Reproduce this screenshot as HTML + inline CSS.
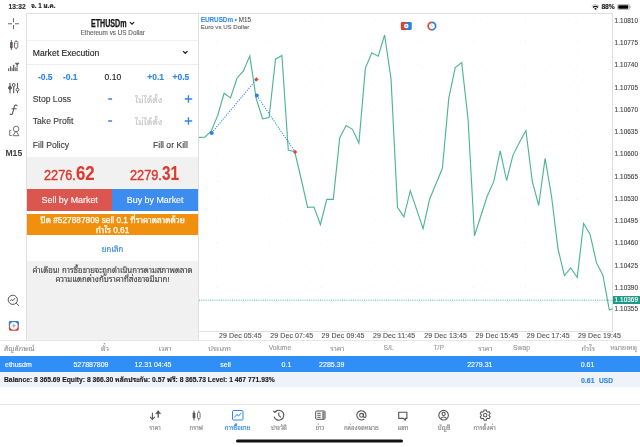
<!DOCTYPE html>
<html><head><meta charset="utf-8">
<style>
*{margin:0;padding:0;box-sizing:border-box}
html,body{width:640px;height:447px;overflow:hidden;background:#fff}
body{position:relative;font-family:"Liberation Sans","Noto Sans Thai Looped","Noto Sans Thai","Loma","Noto Sans CJK SC",sans-serif;color:#222}
.a{position:absolute;white-space:nowrap;line-height:1;-webkit-text-stroke:0.12px currentColor}
.sep{position:absolute;left:0;right:0;height:1px;background:#ececec}
.bl{color:#2f86e8}
.lb{font-size:8.6px;color:#3a3a3a}
.pl{font-size:6.4px;color:#444;left:614.6px;letter-spacing:0.05px}
.tl{font-size:7px;color:#555;top:331.6px;letter-spacing:0.1px}
.hd{font-size:6.8px;color:#9a9a9a;top:345.2px}
.rw{font-size:7px;color:#fff;top:360.9px}
.tb{font-size:6px;color:#8a8a8a;top:424.6px;transform:translateX(-50%)}
.ic{position:absolute}
</style></head><body>

<div class="a" style="left:8.6px;top:3.6px;font-size:6.7px;font-weight:bold;color:#2a2a2a">13:32</div>
<div class="a" style="left:31.2px;top:2.8px;font-size:6.3px;font-weight:bold;color:#1a1a1a">จ. 1 ม.ค.</div>
<div class="a" style="left:601.4px;top:3.6px;font-size:6.7px;font-weight:bold;color:#1a1a1a">88%</div>
<svg class="ic" style="left:590px;top:2px" width="12" height="10" viewBox="590 2 12 10"><path d="M591.7 6.3A5.3 5.3 0 0 1 599.3 6.3" stroke="#c9c9c9" stroke-width="1.2" fill="none"/><path d="M593 7.5A3.5 3.5 0 0 1 598 7.5" stroke="#111" stroke-width="1.25" fill="none"/><path d="M594.2 8.7A1.9 1.9 0 0 1 596.8 8.7L595.5 10Z" fill="#111"/></svg>
<svg class="ic" style="left:617.3px;top:3.6px" width="16" height="6" viewBox="0 0 16 6"><rect x="0.4" y="0.4" width="12.2" height="5.2" rx="1.4" fill="none" stroke="#a0a0a0" stroke-width="0.8"/><rect x="1.3" y="1.3" width="10" height="3.4" rx="0.7" fill="#000"/><path d="M13.3 2.1a1 1 0 0 1 0 1.8z" fill="#a0a0a0"/></svg>
<svg class="ic" style="left:0;top:14px" width="26" height="326" viewBox="0 14 26 326">
<g stroke="#6a6a6a" stroke-width="1.1" fill="none">
<path d="M8 23.7h4M15 23.7h4M13.5 18.3v4M13.5 25v4"/>
</g>
<g>
<rect x="10.1" y="42" width="2.6" height="6.2" rx="0.7" fill="#5a5a5a"/><path d="M11.4 40v10" stroke="#5a5a5a" stroke-width="0.9"/>
<rect x="10.6" y="44.2" width="1.3" height="2.4" fill="#c04a40"/>
<rect x="14.5" y="41.6" width="3.3" height="6.4" rx="0.9" fill="#fff" stroke="#6a6a6a" stroke-width="0.9"/><path d="M16.15 40.1v1.5M16.15 48v1.4" stroke="#6a6a6a" stroke-width="0.9"/>
<rect x="15.3" y="42.8" width="1.2" height="1.4" fill="#6bbf8a"/>
</g>
<g fill="#666">
<rect x="8" y="68.3" width="1.2" height="2.8"/><rect x="10" y="66.3" width="1.2" height="4.8"/><rect x="11.6" y="68" width="1" height="3.1"/>
<rect x="13" y="64.8" width="1.4" height="6.3"/><rect x="14.8" y="67.3" width="1" height="3.8"/><rect x="16.3" y="67.6" width="1.3" height="3.5"/>
<path d="M15.2 62.8h3.9v0.9l-1.4 1.3v2.2h-1.1v-2.2l-1.4-1.3z"/>
</g>
<g stroke="#666" stroke-width="1" fill="none">
<path d="M10 83v10.2M13.7 83v10.2M17.5 83v10.2" stroke="#5a5a5a" stroke-width="1.1"/>
<circle cx="10" cy="87.8" r="1.5" fill="#5a5a5a" stroke="#5a5a5a"/><circle cx="13.7" cy="85" r="1.45" fill="#fff" stroke="#5a5a5a"/><circle cx="17.5" cy="89.6" r="1.45" fill="#fff" stroke="#5a5a5a"/>
</g>
<path d="M17.2 105.8C16.4 104.7 14.8 104.8 14.3 106.6L12.6 113C12.2 114.6 11 114.9 10.2 114.1M11.9 108.7H16.2" stroke="#555" stroke-width="1.05" fill="none" stroke-linecap="round"/>
<g stroke="#666" stroke-width="0.9" fill="none">
<circle cx="16.1" cy="129" r="2.8"/><path d="M16 131l-3 4.7h6z"/><path d="M11.3 130.3h-1.6v5.2h2"/>
</g>
<text x="13.8" y="155.8" font-family="Liberation Sans,sans-serif" font-weight="bold" font-size="8.6" fill="#444" text-anchor="middle">M15</text>
<g stroke="#555" stroke-width="1" fill="none">
<circle cx="12.8" cy="299.8" r="4.6"/><path d="M16.2 303.2l2.8 2.6"/><path d="M10 301.2l1.6-1.7 1.3 1.1 2.2-2.5"/>
</g>
<g>
<rect x="8.9" y="320.9" width="9.9" height="9.8" rx="1.6" fill="#d2463a"/>
<path d="M8.9 322.5a1.6 1.6 0 0 1 1.6-1.6h6.7a1.6 1.6 0 0 1 1.6 1.6v3.3h-9.9z" fill="#2f7fe0"/>
<circle cx="13.85" cy="325.8" r="3.9" fill="#fff"/>
<path d="M13.85 323.6l1.2 2.2-1.2 2.2-1.2-2.2z" fill="#a8b4c0"/><path d="M11.7 325.8h4.3" stroke="#a8b4c0" stroke-width="0.8"/>
</g>
</svg>
<div style="position:absolute;left:26px;top:13px;width:173px;height:327px;border:1px solid #e0e0e0;border-bottom:none;background:#f1f1f2"></div>
<div style="position:absolute;left:27px;top:14px;width:171px;height:143px;background:#fff"></div>
<div style="position:absolute;left:27px;top:40px;width:171px;height:1px;background:#f1f1f1"></div>
<div style="position:absolute;left:27px;top:64px;width:171px;height:1px;background:#eeeeee"></div>
<div class="a" style="left:91.3px;top:18.75px;font-size:10.2px;font-weight:bold;color:#111;transform:scaleX(0.698);-webkit-text-stroke:0.25px #111;transform-origin:0 0">ETHUSDm</div>
<svg class="ic" style="left:128px;top:20px" width="8" height="6" viewBox="128 20 8 6"><path d="M130 22.1l2.05 2.05 2.05-2.05" stroke="#222" stroke-width="1.25" fill="none"/></svg>
<div class="a" style="left:80.4px;top:30.1px;font-size:6.35px;color:#666">Ethereum vs US Dollar</div>
<div class="a lb" style="left:32.8px;top:48.5px;color:#222">Market Execution</div>
<svg class="ic" style="left:181px;top:49px" width="8" height="6" viewBox="181 49 8 6"><path d="M183.1 51.1l2.2 2.2 2.2-2.2" stroke="#222" stroke-width="1.3" fill="none"/></svg>
<div class="a bl" style="left:37.900000000000006px;top:73.2px;font-size:8.5px;font-weight:bold">-0.5</div>
<div class="a bl" style="left:62.900000000000006px;top:73.2px;font-size:8.5px;font-weight:bold">-0.1</div>
<div class="a bl" style="left:147.2px;top:73.2px;font-size:8.5px;font-weight:bold">+0.1</div>
<div class="a bl" style="left:172.5px;top:73.2px;font-size:8.5px;font-weight:bold">+0.5</div>
<div class="a" style="left:104.6px;top:73.2px;font-size:8.5px;color:#222">0.10</div>
<div class="a lb" style="left:32.8px;top:95.2px">Stop Loss</div>
<svg class="ic" style="left:100px;top:94.45px" width="96" height="10" viewBox="0 0 96 10"><path d="M8.2 5h3.9" stroke="#2f86e8" stroke-width="1.5"/><path d="M84.7 5h7.5M88.45 1.25v7.5" stroke="#2f86e8" stroke-width="1.35"/></svg>
<div class="a" style="left:135px;top:96.2px;font-size:8.3px;letter-spacing:0.25px;color:#c4c4c4">ไม่ได้ตั้ง</div>
<div class="a lb" style="left:32.8px;top:116.7px">Take Profit</div>
<svg class="ic" style="left:100px;top:115.95px" width="96" height="10" viewBox="0 0 96 10"><path d="M8.2 5h3.9" stroke="#2f86e8" stroke-width="1.5"/><path d="M84.7 5h7.5M88.45 1.25v7.5" stroke="#2f86e8" stroke-width="1.35"/></svg>
<div class="a" style="left:135px;top:117.7px;font-size:8.3px;letter-spacing:0.25px;color:#c4c4c4">ไม่ได้ตั้ง</div>
<div class="a lb" style="left:32.8px;top:140.7px">Fill Policy</div>
<div class="a lb" style="left:153px;top:140.7px">Fill or Kill</div>
<div class="a" style="left:43.7px;top:167.9px;font-size:14.4px;color:#dc3a2e;font-weight:bold;transform:scaleX(0.83);transform-origin:0 0;transform:scaleX(0.885);font-weight:normal;-webkit-text-stroke:0.45px #dc3a2e">2276.</div>
<div class="a" style="left:75.6px;top:163px;font-size:20.2px;color:#dc3a2e;font-weight:bold;transform:scaleX(0.83);transform-origin:0 0">62</div>
<div class="a" style="left:129.5px;top:167.9px;font-size:14.4px;color:#dc3a2e;font-weight:bold;transform:scaleX(0.83);transform-origin:0 0;transform:scaleX(0.885);font-weight:normal;-webkit-text-stroke:0.45px #dc3a2e">2279.</div>
<div class="a" style="left:162.3px;top:163px;font-size:20.2px;color:#dc3a2e;font-weight:bold;transform:scaleX(0.83);transform-origin:0 0;transform:scaleX(0.76)">31</div>
<div style="position:absolute;left:27px;top:189px;width:85px;height:21.5px;background:#dc5650"></div>
<div style="position:absolute;left:112px;top:189px;width:86px;height:21.5px;background:#3d8cf0"></div>
<div class="a" style="left:41.6px;top:196.2px;font-size:8.9px;color:#fff">Sell by Market</div>
<div class="a" style="left:126.8px;top:196.2px;font-size:8.9px;color:#fff">Buy by Market</div>
<div style="position:absolute;left:27px;top:210.5px;width:171px;height:3px;background:#fff"></div>
<div style="position:absolute;left:27px;top:213.5px;width:171px;height:21.5px;background:#f0900c"></div>
<div class="a" style="left:27px;width:171px;text-align:center;top:214.6px;font-size:8.3px;color:#fff;line-height:10px;-webkit-text-stroke:0.25px #fff">ปิด #527887809 sell 0.1 ที่ราคาตลาดด้วย<br>กำไร 0.61</div>
<div style="position:absolute;left:27px;top:235px;width:171px;height:26px;background:#fff"></div>
<div class="a bl" style="left:27px;width:171px;text-align:center;top:246.1px;font-size:7.8px">ยกเลิก</div>
<div class="a" style="left:27px;width:171px;text-align:center;top:267.3px;font-size:7.8px;color:#444;line-height:8.4px">คำเตือน! การซื้อขายจะถูกดำเนินการตามสภาพตลาด<br>ความแตกต่างกับราคาที่ส่งอาจมีมาก!</div>
<div style="position:absolute;left:198px;top:13px;width:415px;height:318.5px;border:1px solid #e0e0e0"></div>
<div class="a" style="left:200.8px;top:16.5px;font-size:6.3px;font-weight:bold;color:#3a8ef0">EURUSDm <span style="color:#3a8ef0">•</span> <span style="font-weight:normal;color:#555">M15</span></div>
<div class="a" style="left:200.8px;top:23.8px;font-size:6.1px;color:#666">Euro vs US Dollar</div>
<svg class="ic" style="left:400px;top:21px" width="40" height="11" viewBox="400 21 40 11">
<rect x="400.9" y="21.9" width="10.85" height="8.2" rx="1.4" fill="#2f7fe0"/>
<path d="M402.3 21.9h4v8.2h-4a1.4 1.4 0 0 1-1.4-1.4v-5.4a1.4 1.4 0 0 1 1.4-1.4z" fill="#dc4436"/>
<circle cx="406.3" cy="26" r="2.3" fill="#fff"/><circle cx="406.3" cy="26" r="1.1" fill="#9fb0c8"/>
<path d="M431.9 22.3a3.75 3.75 0 0 0 0 7.5" stroke="#dc4436" stroke-width="1.7" fill="none"/>
<path d="M431.9 22.3a3.75 3.75 0 0 1 0 7.5" stroke="#2f7fe0" stroke-width="1.7" fill="none"/>
<path d="M431.4 24.6l0.9 2.2" stroke="#9aa" stroke-width="0.7"/>
</svg>
<svg class="ic" style="left:0;top:0" width="640" height="447" viewBox="0 0 640 447">
<defs><clipPath id="cp"><rect x="199" y="14" width="414" height="317"/></clipPath></defs>
<line x1="199" y1="300.2" x2="613" y2="300.2" stroke="#2aa08c" stroke-width="0.8" stroke-dasharray="1 1.2"/>
<g stroke="#eeeeee" stroke-width="0.8" stroke-dasharray="0.8 8" fill="none">
<path d="M199 20.2H612"/><path d="M199 42.5H612"/><path d="M199 64.7H612"/><path d="M199 87.0H612"/><path d="M199 109.3H612"/><path d="M199 131.5H612"/><path d="M199 153.8H612"/><path d="M199 176.0H612"/><path d="M199 198.3H612"/><path d="M199 220.5H612"/><path d="M199 242.8H612"/><path d="M199 265.0H612"/><path d="M199 287.0H612"/><path d="M217.6 14V330"/><path d="M268.9 14V330"/><path d="M320.2 14V330"/><path d="M371.5 14V330"/><path d="M422.8 14V330"/><path d="M474.1 14V330"/><path d="M525.4 14V330"/><path d="M576.7 14V330"/>
</g>
<g clip-path="url(#cp)">
<polyline points="198.4,137.4 204.9,137.2 211.3,131.0 217.7,115.4 224.1,93.3 230.5,97.9 237.0,78.2 243.4,71.0 249.8,55.9 256.2,98.7 262.6,118.8 269.1,117.6 275.5,59.2 281.9,55.5 288.3,150.3 294.7,151.5 301.2,179.0 307.6,207.4 314.0,207.0 320.4,224.5 326.8,199.3 333.3,199.3 339.7,138.0 346.1,125.5 352.5,129.3 358.9,143.0 365.4,68.1 371.8,52.7 378.2,56.2 384.6,35.0 391.0,78.4 397.5,207.4 403.9,216.9 410.3,190.7 416.7,209.6 423.1,228.6 429.6,199.2 436.0,183.7 442.4,168.3 448.8,98.1 455.2,67.6 461.7,62.6 468.1,119.5 474.5,235.8 480.9,215.8 487.3,195.9 493.8,181.4 500.2,150.8 506.6,180.5 513.0,155.1 519.4,142.5 525.9,130.5 532.3,181.3 538.7,205.5 545.1,158.3 551.5,196.0 558.0,248.8 564.4,275.6 570.8,267.9 577.2,277.5 583.6,223.5 590.1,234.4 596.5,262.9 602.9,275.2 609.3,309.8 615.7,308.0" fill="none" stroke="#50b595" stroke-width="1.15" stroke-linejoin="miter"/>
</g>
<line x1="211.7" y1="132.9" x2="256.4" y2="79.4" stroke="#3a8cf0" stroke-width="1.1" stroke-dasharray="1.2 1.3"/>
<line x1="256.8" y1="95.6" x2="295.1" y2="151.9" stroke="#3a8cf0" stroke-width="1.1" stroke-dasharray="1.2 1.3"/>
<circle cx="211.7" cy="132.9" r="2" fill="#2f7fe0"/>
<circle cx="256.8" cy="95.6" r="2" fill="#2f7fe0"/>
<path d="M256.4 77.2l2.2 2.2-2.2 2.2-2.2-2.2z" fill="#e2403a"/>
<path d="M295.1 149.7l2.2 2.2-2.2 2.2-2.2-2.2z" fill="#e2403a"/>
</svg>
<div class="a pl" style="top:17.7px">1.10810</div>
<div class="a pl" style="top:40.0px">1.10775</div>
<div class="a pl" style="top:62.2px">1.10740</div>
<div class="a pl" style="top:84.5px">1.10705</div>
<div class="a pl" style="top:106.8px">1.10670</div>
<div class="a pl" style="top:129.0px">1.10635</div>
<div class="a pl" style="top:151.3px">1.10600</div>
<div class="a pl" style="top:173.5px">1.10565</div>
<div class="a pl" style="top:195.8px">1.10530</div>
<div class="a pl" style="top:218.0px">1.10495</div>
<div class="a pl" style="top:240.3px">1.10460</div>
<div class="a pl" style="top:262.5px">1.10425</div>
<div class="a pl" style="top:284.5px">1.10390</div>
<div class="a pl" style="top:306.2px">1.10355</div>
<div style="position:absolute;left:613.3px;top:296.3px;width:26.7px;height:7.6px;background:#1f9a86"></div>
<div class="a pl" style="top:296.6px;color:#fff">1.10369</div>
<div class="a tl" style="left:219.0px">29 Dec 05:45</div>
<div class="a tl" style="left:270.3px">29 Dec 07:45</div>
<div class="a tl" style="left:321.6px">29 Dec 09:45</div>
<div class="a tl" style="left:372.9px">29 Dec 11:45</div>
<div class="a tl" style="left:424.2px">29 Dec 13:45</div>
<div class="a tl" style="left:475.5px">29 Dec 15:45</div>
<div class="a tl" style="left:526.8px">29 Dec 17:45</div>
<div class="a tl" style="left:578.1px">29 Dec 19:45</div>
<div style="position:absolute;left:0;top:339.5px;width:640px;height:1px;background:#e6e6e6"></div>
<div class="a hd" style="font-size:7.3px;top:344.9px;left:4px">สัญลักษณ์</div>
<div class="a hd" style="font-size:7.3px;top:344.9px;right:531.0px">ตั๋ว</div>
<div class="a hd" style="font-size:7.3px;top:344.9px;right:468.5px">เวลา</div>
<div class="a hd" style="font-size:7.3px;top:344.9px;right:409.0px">ประเภท</div>
<div class="a hd" style="right:348.7px">Volume</div>
<div class="a hd" style="font-size:7.3px;top:344.9px;right:295.6px">ราคา</div>
<div class="a hd" style="right:246.2px">S/L</div>
<div class="a hd" style="right:196.0px">T/P</div>
<div class="a hd" style="font-size:7.3px;top:344.9px;right:147.5px">ราคา</div>
<div class="a hd" style="right:110.0px">Swap</div>
<div class="a hd" style="font-size:7.3px;top:344.9px;right:45.0px">กำไร</div>
<div class="a hd" style="font-size:6.7px;top:345.3px;right:3.0px">หมายเหตุ</div>
<div style="position:absolute;left:0;top:355.6px;width:640px;height:16.2px;background:#2f8ff6"></div>
<div class="a rw" style="left:5px">ethusdm</div>
<div class="a rw" style="right:531.5px">527887809</div>
<div class="a rw" style="right:468.5px">12.31 04:45</div>
<div class="a rw" style="right:409.2px">sell</div>
<div class="a rw" style="right:348.7px">0.1</div>
<div class="a rw" style="right:295.6px">2285.39</div>
<div class="a rw" style="right:147.5px">2279.31</div>
<div class="a rw" style="right:45.6px">0.61</div>
<div style="position:absolute;left:0;top:371.8px;width:640px;height:15.6px;background:#eef2f9"></div>
<div class="a" style="left:4px;top:376.8px;font-size:6.75px;font-weight:bold;color:#1a1a1a">Balance: 8 365.69 Equity: 8 366.30 <span style="font-size:6.8px">หลักประกัน</span>: 0.57 <span style="font-size:6.8px">ฟรี</span>: 8 365.73 Level: 1 467 771.93%</div>
<div class="a" style="left:581px;top:376.7px;font-size:7px;font-weight:bold;color:#2f86e8">0.61</div>
<div class="a" style="left:599px;top:377.9px;font-size:6.6px;font-weight:bold;color:#2f86e8">USD</div>
<div style="position:absolute;left:0;top:403.5px;width:640px;height:1px;background:#e2e2e2"></div>
<div class="a tb" style="left:155px;color:#8a8a8a">ราคา</div>
<div class="a tb" style="left:196.25px;color:#8a8a8a">กราฟ</div>
<div class="a tb" style="left:237.5px;color:#2f86e8">การซื้อขาย</div>
<div class="a tb" style="left:279px;color:#8a8a8a">ประวัติ</div>
<div class="a tb" style="left:320px;color:#8a8a8a">ข่าว</div>
<div class="a tb" style="left:361.3px;color:#8a8a8a">กล่องจดหมาย</div>
<div class="a tb" style="left:403px;color:#8a8a8a">แชท</div>
<div class="a tb" style="left:444px;color:#8a8a8a">บัญชี</div>
<div class="a tb" style="left:484.7px;color:#8a8a8a">การตั้งค่า</div>
<svg class="ic" style="left:0;top:404px" width="640" height="43" viewBox="0 404 640 43">
<g stroke="#555" stroke-width="1.1" fill="none" stroke-linecap="round">
<path d="M152.4 413v6.2M150.3 417.2l2.1 2.3 2.1-2.3"/><path d="M158.2 417.2v-6" stroke-width="1.3"/><path d="M155.8 413.4l2.4-2.6 2.4 2.6z" fill="#555" stroke-width="0.6"/>
</g>
<g>
<path d="M194 410.5v10M198.8 410.5v10" stroke="#555" stroke-width="0.8"/>
<rect x="192.7" y="412.5" width="2.6" height="6" rx="0.8" fill="#555"/>
<rect x="197.5" y="412.5" width="2.6" height="6" rx="0.8" fill="#fff" stroke="#555" stroke-width="0.8"/>
</g>
<g>
<rect x="232.5" y="410.5" width="10.5" height="9.5" rx="1" fill="#fff" stroke="#2f86e8" stroke-width="1"/>
<path d="M234.3 417.5l2.6-3 1.6 1.6 2.8-3.2" stroke="#2f86e8" stroke-width="1" fill="none"/>
</g>
<g stroke="#555" stroke-width="1.1" fill="none">
<path d="M274.8 412.2a5 5 0 1 1 -0.8 4.5"/><path d="M273.2 410.8l1.6 1.6 1.8-1.3"/>
<path d="M278.8 412.6v3l2 1.6"/>
</g>
<g stroke="#555" stroke-width="1" fill="none">
<rect x="315.7" y="411" width="9.3" height="8.3" rx="0.9"/>
<path d="M317.3 413.3h3.4M317.3 415.3h3.4M317.3 417.3h3.4"/><rect x="322.2" y="411.5" width="2.4" height="7.4" fill="#888" stroke="none"/>
</g>
<g stroke="#555" stroke-width="1.1" fill="none">
<circle cx="361.5" cy="415.3" r="1.9"/><path d="M363.4 413.5v2.6a1.3 1.3 0 0 0 2.6 0v-0.8a4.6 4.6 0 1 0 -1.8 3.7"/>
</g>
<g stroke="#555" stroke-width="1.1" fill="none" stroke-linejoin="round">
<path d="M398.7 412.2h8.2v6.2h-1.6v1.9l-1.9-1.9h-4.7z"/>
</g>
<g stroke="#555" stroke-width="1.1" fill="none">
<circle cx="443.6" cy="415.2" r="4.8"/><circle cx="443.6" cy="413.9" r="1.6"/><path d="M440.6 418.6a3.6 3.6 0 0 1 6 0"/>
</g>
<g stroke="#555" stroke-width="1.05" fill="none" stroke-linejoin="round"><circle cx="485.2" cy="415.15" r="1.7"/><path d="M483.63 411.63 L484.11 410.01 L486.29 410.01 L486.77 411.63 L487.46 412.04 L489.10 411.64 L490.19 413.53 L489.03 414.75 L489.03 415.55 L490.19 416.77 L489.10 418.66 L487.46 418.26 L486.77 418.67 L486.29 420.29 L484.11 420.29 L483.63 418.67 L482.94 418.26 L481.30 418.66 L480.21 416.77 L481.37 415.55 L481.37 414.75 L480.21 413.53 L481.30 411.64 L482.94 412.04Z"/></g>
<rect x="236" y="439.6" width="167" height="3" rx="1.5" fill="#111"/>
</svg>
</body></html>
